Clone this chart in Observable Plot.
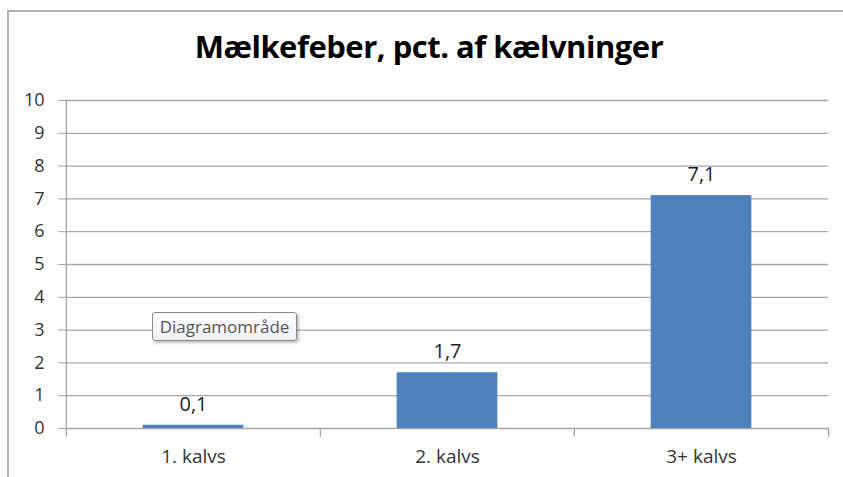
<!DOCTYPE html>
<html>
<head>
<meta charset="utf-8">
<script src="https://cdn.jsdelivr.net/npm/d3@7"></script>
<script src="https://cdn.jsdelivr.net/npm/@observablehq/plot@0.6"></script>
<style>
  html, body { margin: 0; padding: 0; background: #fff; }
  #wrap { position: relative; width: 843px; height: 477px; overflow: hidden; font-family: "Open Sans", sans-serif; }
  #frame { position: absolute; left: 7px; top: 10px; width: 900px; height: 600px; border-left: 2px solid #b0b0b0; border-top: 2px solid #b0b0b0; box-sizing: border-box; }
  #title { position: absolute; left: 0; top: 0; width: 858px; height: 85px; text-align: center; font-weight: 700; font-size: 31px; letter-spacing: -0.5px; line-height: 1; color: #000; }
  #title span { position: absolute; top: 31px; left: 0; right: 0; }
  #chart { position: absolute; left: 0; top: 85px; }
  #tip { position: absolute; left: 152px; top: 312px; width: 145px; height: 29px; box-sizing: border-box; border: 1px solid #8a8a8a; border-radius: 3px; background: linear-gradient(#ffffff, #eef0f3); box-shadow: 2px 2px 3px rgba(0,0,0,0.25); color: #555; font-size: 17px; line-height: 27px; text-align: center; }
</style>
</head>
<body>
<div id="wrap">
  <div id="frame"></div>
  <div id="title"><span>Mælkefeber, pct. af kælvninger</span></div>
  <div id="chart"></div>
  <div id="tip">Diagramområde</div>
</div>
<script>
const categories = ["1. kalvs", "2. kalvs", "3+ kalvs"];
const values = [0.1, 1.7, 7.1];
const yTicks = [0, 1, 2, 3, 4, 5, 6, 7, 8, 9, 10];

const data = categories.map((c, i) => ({cat: c, value: values[i]}));
const fmt = v => v.toFixed(1).replace(".", ",");

const W = 843, H = 392, mL = 65, mR = 15;
const step = (W - mL - mR) / categories.length;
const barW = 101;
const inset = (step - barW) / 2;

const chart = Plot.plot({
  width: W,
  height: H,
  marginTop: 15,
  marginBottom: 49,
  marginLeft: mL,
  marginRight: mR,
  style: {fontFamily: "Open Sans, sans-serif", fontSize: "16px", color: "#333", background: "transparent"},
  x: {domain: categories, padding: 0, label: null},
  y: {domain: [0, 10], ticks: yTicks, label: null},
  marks: [
    Plot.ruleY(yTicks, {stroke: "#a6a6a6", strokeWidth: 1.3, strokeOpacity: 1}),
    Plot.axisY({ticks: yTicks, tickSize: 7, tickPadding: 14, stroke: "#a6a6a6", strokeOpacity: 1, tickFormat: d => String(d), fontSize: 18, fill: "#333", label: null}),
    Plot.axisX({tickSize: 0, tickPadding: 21, fontSize: 19, fill: "#333", label: null}),
    Plot.ruleX(categories, {x: d => d, dx: -step / 2, y1: 0, y2: -0.27, stroke: "#a6a6a6", strokeWidth: 1.3}),
    Plot.ruleX(categories.slice(-1), {x: d => d, dx: step / 2, y1: 0, y2: -0.27, stroke: "#a6a6a6", strokeWidth: 1.3}),
    Plot.ruleX([0], {x: () => categories[0], dx: -step / 2, y1: 0, y2: 10, stroke: "#a6a6a6", strokeWidth: 1.3}),
    Plot.barY(data, {x: "cat", y: "value", fill: "#4f81bd", insetLeft: inset, insetRight: inset}),
    Plot.text(data, {x: "cat", y: "value", text: d => fmt(d.value), dy: -21, fontSize: 20, fill: "#222"})
  ]
});
document.getElementById("chart").appendChild(chart);
</script>
</body>
</html>
